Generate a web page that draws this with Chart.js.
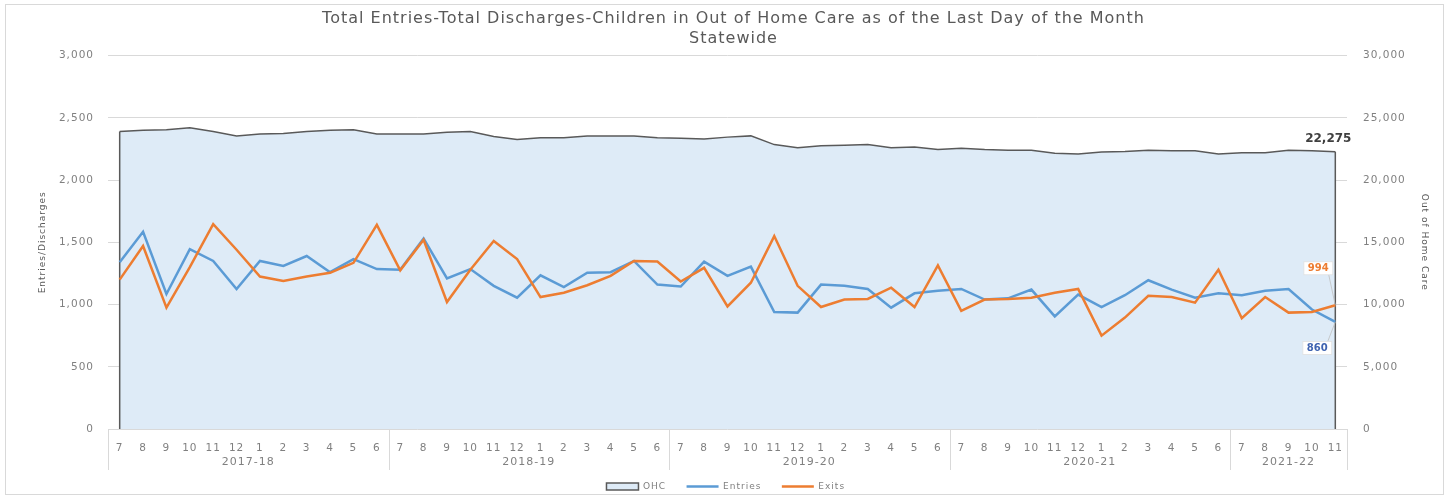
<!DOCTYPE html>
<html>
<head>
<meta charset="utf-8">
<script src="https://cdn.jsdelivr.net/npm/chart.js@4.4.1/dist/chart.umd.min.js"></script>
<style>
  html, body { margin: 0; padding: 0; background: #fff; }
  #wrap { width: 1449px; height: 497px; }
</style>
</head>
<body>
<div id="wrap"><canvas id="ohcChart" width="1449" height="497"></canvas></div>
<script>
// months (fiscal year Jul-Jun), grouped by fiscal year below the axis
const monthLabels = [
    '7','8','9','10','11','12','1','2','3','4','5','6',
    '7','8','9','10','11','12','1','2','3','4','5','6',
    '7','8','9','10','11','12','1','2','3','4','5','6',
    '7','8','9','10','11','12','1','2','3','4','5','6',
    '7','8','9','10','11'
];
const fiscalYears = ['2017-18', '2018-19', '2019-20', '2020-21', '2021-22'];
const monthsInYear = [12, 12, 12, 12, 5];

const entries = [
    1340, 1585, 1085, 1445, 1350, 1125, 1350, 1310, 1390, 1260, 1365, 1285,
    1280, 1530, 1210, 1285, 1150, 1055, 1235, 1140, 1255, 1260, 1350, 1160,
    1145, 1345, 1230, 1305, 940, 935, 1160, 1150, 1125, 975, 1090, 1110,
    1125, 1040, 1050, 1120, 905, 1080, 980, 1075, 1195, 1120, 1055, 1090,
    1075, 1110, 1125, 960, 860
];
const exits = [
    1200, 1470, 975, 1300, 1645, 1440, 1225, 1190, 1225, 1255, 1335, 1640,
    1275, 1520, 1020, 1280, 1510, 1365, 1060, 1095, 1155, 1230, 1350, 1345,
    1185, 1295, 985, 1175, 1550, 1150, 980, 1040, 1045, 1135, 980, 1315,
    950, 1040, 1045, 1055, 1095, 1125, 750, 895, 1070, 1060, 1015, 1280,
    890, 1060, 935, 940, 994
];
const ohc = [
    23900, 24000, 24050, 24200, 23900, 23550, 23700, 23750, 23900, 24000, 24050, 23700,
    23700, 23700, 23850, 23900, 23500, 23250, 23400, 23400, 23550, 23550, 23550, 23400,
    23350, 23300, 23450, 23550, 22850, 22600, 22750, 22800, 22850, 22600, 22650, 22450,
    22550, 22450, 22400, 22400, 22150, 22100, 22250, 22300, 22400, 22350, 22350, 22100,
    22200, 22200, 22400, 22350, 22275
];

const BLUE = '#5B9BD5';
const ORANGE = '#ED7D31';
const GREY_TXT = '#808080';
const GRID = '#d9d9d9';
const FONT = 'DejaVu Sans';

// extra drawing: border, area edges, fiscal-year groups, data labels
const excelBits = {
    id: 'excelBits',
    beforeUpdate(chart) {
        // the original's text is set wide
        chart.ctx.letterSpacing = '1px';
    },
    beforeDraw(chart) {
        const c = chart.ctx;
        c.letterSpacing = '1px';
        c.save();
        c.fillStyle = '#fff';
        c.fillRect(0, 0, chart.width, chart.height);
        c.strokeStyle = '#d9d9d9';
        c.lineWidth = 1;
        c.strokeRect(5.5, 4.5, chart.width - 11, chart.height - 7);
        c.restore();
    },
    afterDatasetDraw(chart, args) {
        if (args.index !== 0) return;
        const pts = chart.getDatasetMeta(0).data;
        const base = chart.scales.y2.getPixelForValue(0);
        const c = chart.ctx;
        c.save();
        c.strokeStyle = '#595959';
        c.lineWidth = 1.5;
        [pts[0], pts[pts.length - 1]].forEach(p => {
            c.beginPath();
            c.moveTo(p.x, p.y);
            c.lineTo(p.x, base);
            c.stroke();
        });
        c.restore();
    },
    afterDraw(chart) {
        const c = chart.ctx;
        const x = chart.scales.x;
        const area = chart.chartArea;
        c.save();

        // fiscal year groups
        c.strokeStyle = GRID;
        c.lineWidth = 1;
        c.fillStyle = GREY_TXT;
        c.font = '11px "' + FONT + '"';
        c.textAlign = 'center';
        c.textBaseline = 'middle';
        let start = 0;
        const edges = [area.left];
        fiscalYears.forEach((fy, i) => {
            const end = start + monthsInYear[i] - 1;
            const left = i === 0 ? area.left : (x.getPixelForValue(start - 1) + x.getPixelForValue(start)) / 2;
            const right = i === fiscalYears.length - 1 ? area.right : (x.getPixelForValue(end) + x.getPixelForValue(end + 1)) / 2;
            edges.push(right);
            c.fillText(fy, (left + right) / 2, area.bottom + 33);
            start = end + 1;
        });
        edges.forEach(e => {
            c.beginPath();
            c.moveTo(Math.round(e) + 0.5, area.bottom);
            c.lineTo(Math.round(e) + 0.5, area.bottom + 41);
            c.stroke();
        });

        // data labels on the last point
        const last = ohc.length - 1;
        const pOhc = chart.getDatasetMeta(0).data[last];
        c.letterSpacing = '0px';
        c.font = 'bold 12px "' + FONT + '"';
        c.fillStyle = '#404040';
        c.fillText(ohc[last].toLocaleString('en-US'), pOhc.x - 7, pOhc.y - 13);

        const boxed = (txt, color, p, dx, dy) => {
            c.font = 'bold 10px "' + FONT + '"';
            const w = c.measureText(txt).width + 8;
            const h = 13;
            const cx = p.x + dx, cy = p.y + dy;
            c.strokeStyle = '#bfbfbf';
            c.lineWidth = 0.8;
            c.beginPath();
            c.moveTo(cx + w / 2 - 4, dy < 0 ? cy + h / 2 : cy - h / 2);
            c.lineTo(p.x, p.y);
            c.stroke();
            c.fillStyle = '#fff';
            c.fillRect(cx - w / 2, cy - h / 2, w, h);
            c.strokeStyle = '#e0e0e0';
            c.strokeRect(cx - w / 2, cy - h / 2, w, h);
            c.fillStyle = color;
            c.fillText(txt, cx, cy + 0.5);
        };
        boxed(String(exits[last]), ORANGE, chart.getDatasetMeta(2).data[last], -17, -37);
        boxed(String(entries[last]), '#3f63b0', chart.getDatasetMeta(1).data[last], -18, 26);

        c.restore();
    }
};

const ctx = document.getElementById('ohcChart').getContext('2d');
const ohcChart = new Chart(ctx, {
    type: 'line',
    data: {
        labels: monthLabels,
        datasets: [{
            label: 'OHC',
            data: ohc,
            yAxisID: 'y2',
            fill: 'origin',
            backgroundColor: '#deebf7',
            borderColor: '#595959',
            borderWidth: 1.5,
            pointRadius: 0,
            order: 3
        }, {
            label: 'Entries',
            data: entries,
            yAxisID: 'y',
            borderColor: BLUE,
            backgroundColor: BLUE,
            borderWidth: 2.5,
            pointRadius: 0,
            order: 2
        }, {
            label: 'Exits',
            data: exits,
            yAxisID: 'y',
            borderColor: ORANGE,
            backgroundColor: ORANGE,
            borderWidth: 2.5,
            pointRadius: 0,
            order: 1
        }]
    },
    options: {
        responsive: false,
        animation: false,
        layout: { padding: { left: 37, right: 19, top: 8, bottom: -4 } },
        plugins: {
            title: {
                display: true,
                text: ['Total Entries-Total Discharges-Children in Out of Home Care as of the Last Day of the Month', 'Statewide'],
                color: '#595959',
                font: { family: FONT, size: 16, weight: 'normal', lineHeight: 1.3 },
                padding: { top: 0, bottom: 6 }
            },
            legend: {
                position: 'bottom',
                labels: {
                    color: GREY_TXT,
                    font: { family: FONT, size: 9 },
                    usePointStyle: true,
                    pointStyleWidth: 32,
                    boxHeight: 7,
                    padding: 5,
                    generateLabels(chart) {
                        return chart.data.datasets.map((ds, i) => ({
                            text: ds.label + '    ',
                            datasetIndex: i,
                            fillStyle: i === 0 ? '#deebf7' : ds.borderColor,
                            strokeStyle: ds.borderColor,
                            lineWidth: i === 0 ? 1.5 : 2.5,
                            pointStyle: i === 0 ? 'rect' : 'line',
                            fontColor: GREY_TXT,
                            hidden: false
                        }));
                    }
                }
            },
            tooltip: { enabled: false }
        },
        scales: {
            x: {
                offset: true,
                grid: { display: false },
                border: { display: false },
                ticks: {
                    color: GREY_TXT,
                    font: { family: FONT, size: 10.5 },
                    autoSkip: false,
                    maxRotation: 0,
                    padding: 5
                },
                afterFit(scale) { scale.height = 48; }
            },
            y: {
                position: 'left',
                min: 0,
                max: 3000,
                ticks: {
                    stepSize: 500,
                    color: GREY_TXT,
                    font: { family: FONT, size: 10.5 },
                    padding: 14
                },
                grid: { color: GRID, drawTicks: false },
                border: { display: false },
                title: {
                    display: true,
                    text: 'Entries/Discharges',
                    color: '#595959',
                    font: { family: FONT, size: 9 },
                    padding: 0
                },
                afterFit(scale) { scale.width = 71; }
            },
            y2: {
                position: 'right',
                min: 0,
                max: 30000,
                ticks: {
                    stepSize: 5000,
                    color: GREY_TXT,
                    font: { family: FONT, size: 10.5 },
                    padding: 16
                },
                grid: { display: false, drawTicks: false },
                border: { display: false },
                title: {
                    display: true,
                    text: 'Out of Home Care',
                    color: '#595959',
                    font: { family: FONT, size: 9 },
                    padding: 0
                },
                afterFit(scale) { scale.width = 83; }
            }
        }
    },
    plugins: [excelBits]
});
</script>
</body>
</html>
